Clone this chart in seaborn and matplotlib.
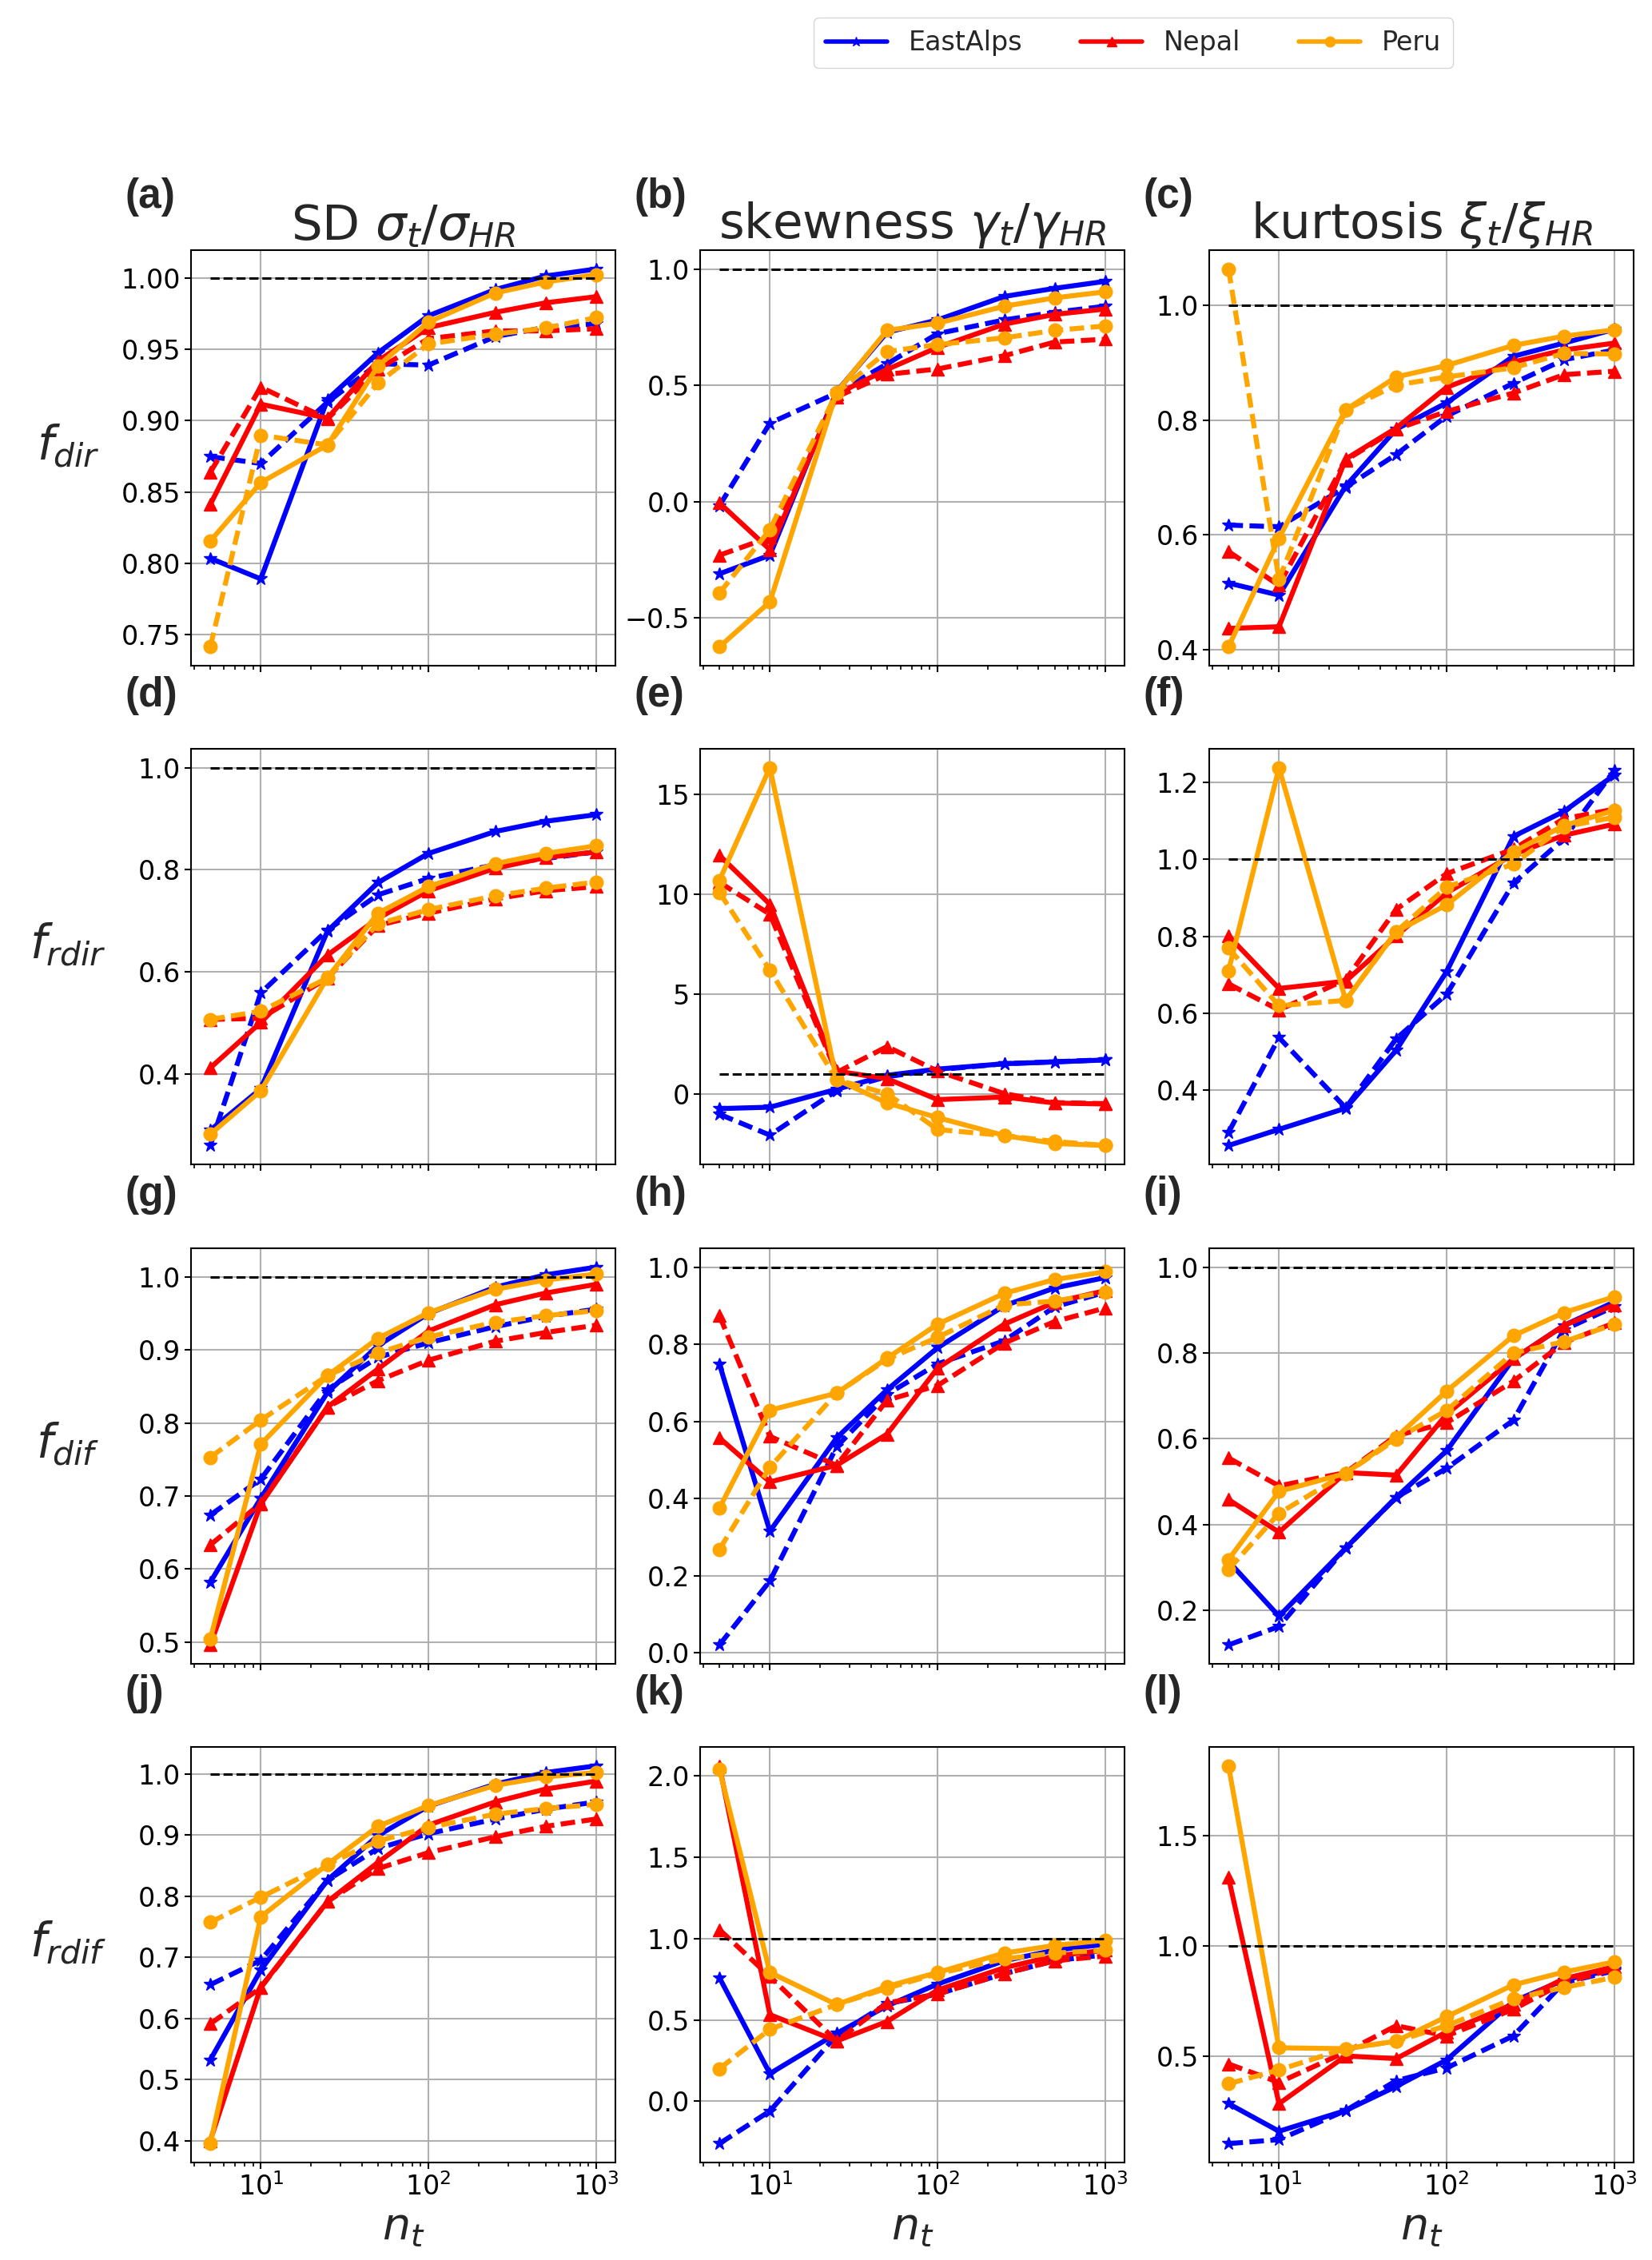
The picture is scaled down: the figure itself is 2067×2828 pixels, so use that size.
import numpy as np
import matplotlib
matplotlib.use("Agg")
import matplotlib.pyplot as plt
from matplotlib.lines import Line2D
import seaborn as sns

sns.set_style("ticks")
plt.rcParams['font.family'] = ['DejaVu Sans']
plt.rcParams['axes.linewidth'] = 1.5
plt.rcParams['xtick.major.width'] = 1.5
plt.rcParams['ytick.major.width'] = 1.5
plt.rcParams['xtick.minor.width'] = 1.2
plt.rcParams['xtick.major.size'] = 6
plt.rcParams['ytick.major.size'] = 6
plt.rcParams['xtick.minor.size'] = 3.5
plt.rcParams['xtick.direction'] = 'out'
plt.rcParams['ytick.direction'] = 'out'
plt.rcParams['xtick.color'] = 'black'
plt.rcParams['ytick.color'] = 'black'
plt.rcParams['axes.edgecolor'] = 'black'

nt = [5, 10, 25, 50, 100, 250, 500, 1000]
regions = ["EastAlps", "Nepal", "Peru"]
colors = {"EastAlps": "blue", "Nepal": "red", "Peru": "orange"}
markers = {"EastAlps": "*", "Nepal": "^", "Peru": "o"}
msizes = {"EastAlps": 12, "Nepal": 12, "Peru": 12}

# each region: (solid, dashed)
sd_dir = {
    "EastAlps": ([0.8035, 0.789, 0.915, 0.9476, 0.9736, 0.992, 1.0015, 1.0064],
                 [0.8748, 0.870, 0.913, 0.940, 0.939, 0.959, 0.9655, 0.968]),
    "Nepal": ([0.8412, 0.9116, 0.9017, 0.942, 0.9653, 0.976, 0.9827, 0.987],
              [0.8638, 0.9235, 0.9013, 0.936, 0.9576, 0.963, 0.963, 0.9645]),
    "Peru": ([0.8156, 0.8566, 0.883, 0.9383, 0.9692, 0.9896, 0.9973, 1.0025],
             [0.7414, 0.8898, 0.883, 0.9264, 0.9538, 0.9607, 0.965, 0.9723]),
}
skew_dir = {
    "EastAlps": ([-0.311, -0.231, 0.473, 0.728, 0.781, 0.882, 0.917, 0.947],
                 [-0.018, 0.337, 0.467, 0.592, 0.722, 0.781, 0.814, 0.840]),
    "Nepal": ([-0.006, -0.207, 0.462, 0.568, 0.663, 0.763, 0.805, 0.828],
              [-0.231, -0.154, 0.450, 0.547, 0.570, 0.627, 0.686, 0.698]),
    "Peru": ([-0.625, -0.432, 0.470, 0.736, 0.767, 0.840, 0.876, 0.902],
             [-0.394, -0.121, 0.467, 0.645, 0.675, 0.704, 0.736, 0.755]),
}
kurt_dir = {
    "EastAlps": ([0.516, 0.495, 0.685, 0.784, 0.830, 0.911, 0.934, 0.958],
                 [0.617, 0.614, 0.683, 0.740, 0.807, 0.864, 0.905, 0.922]),
    "Nepal": ([0.437, 0.440, 0.732, 0.786, 0.857, 0.901, 0.922, 0.934],
              [0.571, 0.512, 0.730, 0.784, 0.815, 0.847, 0.879, 0.885]),
    "Peru": ([0.405, 0.594, 0.818, 0.875, 0.895, 0.930, 0.946, 0.957],
             [1.063, 0.522, 0.818, 0.861, 0.875, 0.891, 0.916, 0.915]),
}

sd_rdir = {
    "EastAlps": ([0.29, 0.371, 0.680, 0.775, 0.832, 0.875, 0.895, 0.908],
                 [0.26, 0.559, 0.682, 0.751, 0.783, 0.81, 0.822, 0.835]),
    "Nepal": ([0.412, 0.501, 0.633, 0.705, 0.759, 0.803, 0.824, 0.835],
              [0.507, 0.509, 0.588, 0.691, 0.715, 0.743, 0.759, 0.767]),
    "Peru": ([0.282, 0.367, 0.589, 0.715, 0.767, 0.812, 0.832, 0.847],
             [0.507, 0.523, 0.588, 0.694, 0.722, 0.749, 0.764, 0.776]),
}
skew_rdir = {
    "EastAlps": ([-0.75, -0.68, 0.22, 0.92, 1.23, 1.50, 1.59, 1.69],
                 [-1.03, -2.08, 0.15, 0.85, 1.2, 1.5, 1.6, 1.7]),
    "Nepal": ([11.95, 9.5, 1.13, 0.75, -0.3, -0.17, -0.47, -0.52],
              [10.6, 9.0, 1.06, 2.36, 1.13, 0.0, -0.45, -0.5]),
    "Peru": ([10.7, 16.35, 0.71, -0.47, -1.2, -2.1, -2.5, -2.6],
             [10.1, 6.2, 0.70, 0.0, -1.8, -2.1, -2.4, -2.6]),
}
kurt_rdir = {
    "EastAlps": ([0.255, 0.297, 0.352, 0.503, 0.708, 1.06, 1.125, 1.22],
                 [0.289, 0.536, 0.353, 0.533, 0.649, 0.938, 1.054, 1.232]),
    "Nepal": ([0.801, 0.664, 0.683, 0.801, 0.913, 1.013, 1.063, 1.092],
              [0.676, 0.608, 0.687, 0.870, 0.963, 1.027, 1.106, 1.131]),
    "Peru": ([0.710, 1.239, 0.633, 0.812, 0.882, 1.02, 1.088, 1.128],
             [0.769, 0.619, 0.633, 0.812, 0.928, 0.988, 1.085, 1.11]),
}

sd_dif = {
    "EastAlps": ([0.582, 0.697, 0.842, 0.906, 0.950, 0.986, 1.003, 1.0135],
                 [0.674, 0.723, 0.846, 0.890, 0.910, 0.932, 0.946, 0.956]),
    "Nepal": ([0.496, 0.689, 0.822, 0.874, 0.926, 0.962, 0.978, 0.990],
              [0.633, 0.69, 0.822, 0.858, 0.886, 0.912, 0.924, 0.934]),
    "Peru": ([0.504, 0.771, 0.865, 0.916, 0.951, 0.983, 0.996, 1.004],
             [0.753, 0.804, 0.865, 0.896, 0.918, 0.938, 0.947, 0.954]),
}
skew_dif = {
    "EastAlps": ([0.749, 0.315, 0.557, 0.682, 0.791, 0.900, 0.946, 0.973],
                 [0.02, 0.186, 0.534, 0.67, 0.749, 0.809, 0.897, 0.935]),
    "Nepal": ([0.557, 0.443, 0.486, 0.567, 0.738, 0.852, 0.909, 0.939],
              [0.874, 0.561, 0.486, 0.655, 0.693, 0.803, 0.859, 0.894]),
    "Peru": ([0.375, 0.629, 0.673, 0.764, 0.852, 0.932, 0.968, 0.988],
             [0.268, 0.481, 0.673, 0.761, 0.818, 0.902, 0.912, 0.935]),
}
kurt_dif = {
    "EastAlps": ([0.314, 0.186, 0.345, 0.463, 0.572, 0.786, 0.864, 0.919],
                 [0.119, 0.162, 0.345, 0.463, 0.531, 0.643, 0.854, 0.908]),
    "Nepal": ([0.458, 0.382, 0.521, 0.515, 0.657, 0.786, 0.864, 0.912],
              [0.555, 0.49, 0.521, 0.607, 0.637, 0.734, 0.824, 0.87]),
    "Peru": ([0.318, 0.477, 0.519, 0.603, 0.711, 0.84, 0.894, 0.931],
             [0.295, 0.426, 0.519, 0.599, 0.666, 0.8, 0.826, 0.867]),
}

sd_rdif = {
    "EastAlps": ([0.532, 0.679, 0.826, 0.899, 0.947, 0.983, 1.002, 1.013],
                 [0.655, 0.695, 0.826, 0.878, 0.902, 0.926, 0.942, 0.954]),
    "Nepal": ([0.40, 0.651, 0.791, 0.855, 0.916, 0.954, 0.975, 0.988],
              [0.591, 0.65, 0.791, 0.845, 0.871, 0.897, 0.914, 0.926]),
    "Peru": ([0.395, 0.766, 0.852, 0.914, 0.948, 0.981, 0.995, 1.002],
             [0.757, 0.798, 0.852, 0.890, 0.912, 0.934, 0.943, 0.950]),
}
skew_rdif = {
    "EastAlps": ([0.759, 0.17, 0.417, 0.586, 0.72, 0.863, 0.928, 0.964],
                 [-0.26, -0.06, 0.406, 0.60, 0.658, 0.784, 0.863, 0.90]),
    "Nepal": ([2.06, 0.532, 0.37, 0.49, 0.683, 0.82, 0.892, 0.928],
              [1.054, 0.766, 0.37, 0.604, 0.658, 0.784, 0.863, 0.892]),
    "Peru": ([2.04, 0.791, 0.594, 0.705, 0.791, 0.91, 0.957, 0.989],
             [0.2, 0.442, 0.594, 0.694, 0.784, 0.874, 0.91, 0.928]),
}
kurt_rdif = {
    "EastAlps": ([0.286, 0.161, 0.255, 0.364, 0.484, 0.749, 0.846, 0.894],
                 [0.105, 0.123, 0.255, 0.390, 0.448, 0.593, 0.834, 0.888]),
    "Nepal": ([1.31, 0.286, 0.502, 0.49, 0.611, 0.737, 0.852, 0.906],
              [0.466, 0.382, 0.52, 0.639, 0.593, 0.713, 0.834, 0.896]),
    "Peru": ([1.816, 0.539, 0.535, 0.569, 0.680, 0.824, 0.882, 0.928],
             [0.376, 0.439, 0.535, 0.569, 0.639, 0.761, 0.812, 0.858]),
}

panels = [[sd_dir, skew_dir, kurt_dir],
          [sd_rdir, skew_rdir, kurt_rdir],
          [sd_dif, skew_dif, kurt_dif],
          [sd_rdif, skew_rdif, kurt_rdif]]
letters = ["a", "b", "c", "d", "e", "f", "g", "h", "i", "j", "k", "l"]
col_titles = [r"SD $\sigma_t/\sigma_{HR}$", r"skewness $\gamma_t/\gamma_{HR}$",
              r"kurtosis $\xi_t/\xi_{HR}$"]
row_labels = [r"$f_{dir}$", r"$f_{rdir}$", r"$f_{dif}$", r"$f_{rdif}$"]

W, H = 2067, 2828
fig = plt.figure(figsize=(W / 100, H / 100), dpi=100)

lefts = [239, 876, 1513]
tops = [313, 937, 1562, 2186]
aw, ah = 531, 520
LW = 4.5

for r in range(4):
    for c in range(3):
        ax = fig.add_axes([lefts[c] / W, 1 - (tops[r] + ah) / H, aw / W, ah / H])
        data = panels[r][c]
        for reg in regions:
            solid, dashed = data[reg]
            for vals, ls in ((solid, "-"), (dashed, (0, (2.9, 1.3)))):
                sns.lineplot(x=nt, y=vals, ax=ax, color=colors[reg], marker=markers[reg],
                             markersize=msizes[reg], markeredgecolor=colors[reg],
                             markeredgewidth=1, linewidth=LW, linestyle=ls)
        ax.plot([nt[0], nt[-1]], [1, 1], color="black", linestyle="--", linewidth=2.2)
        ax.set_xscale("log")
        ax.grid(True, which="major", color="#b0b0b0", linewidth=1.5)
        ax.tick_params(axis="both", which="major", labelsize=24)
        ax.set_xlabel("")
        ax.set_ylabel("")
        if r < 3:
            ax.tick_params(axis="x", which="both", labelbottom=False)
        else:
            ax.set_xlabel(r"$n_t$", fontsize=40)
        if r == 0:
            ax.set_title(col_titles[c], fontsize=44, pad=6)
        if c == 0:
            ax.text(-0.29, 0.53, row_labels[r], transform=ax.transAxes,
                    fontsize=42, ha="center", va="center")
        ax.text(-0.155, 1.175, "(" + letters[r * 3 + c] + ")", transform=ax.transAxes,
                fontsize=37, fontweight="bold", family="Liberation Sans",
                ha="left", va="top")

handles = [Line2D([0], [0], color=colors[reg], marker=markers[reg], markersize=9,
                  markeredgecolor=colors[reg], linewidth=4) for reg in regions]
fig.legend(handles, regions, loc="upper center", bbox_to_anchor=(0.686, 0.998),
           ncol=3, fontsize=24, frameon=True, handlelength=2.3, columnspacing=2.2,
           borderpad=0.45)

fig.savefig("out.png", dpi=100)
